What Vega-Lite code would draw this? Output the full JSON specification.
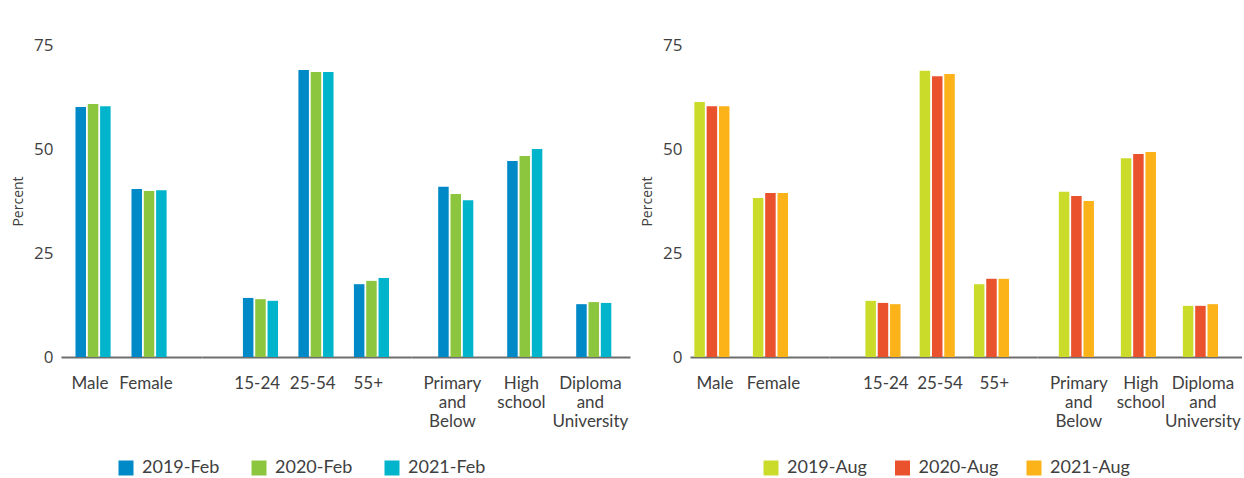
{
  "$schema": "https://vega.github.io/schema/vega-lite/v6.json",
  "padding": {"top": 36, "left": 11, "right": 0, "bottom": 0},
  "background": "white",
  "datasets": {
    "feb": [
      {"category": "Male", "group": "Gender", "period": "2019-Feb", "value": 60.1},
      {"category": "Male", "group": "Gender", "period": "2020-Feb", "value": 60.8},
      {"category": "Male", "group": "Gender", "period": "2021-Feb", "value": 60.3},
      {"category": "Female", "group": "Gender", "period": "2019-Feb", "value": 40.4},
      {"category": "Female", "group": "Gender", "period": "2020-Feb", "value": 39.9},
      {"category": "Female", "group": "Gender", "period": "2021-Feb", "value": 40.1},
      {"category": "15-24", "group": "Age", "period": "2019-Feb", "value": 14.2},
      {"category": "15-24", "group": "Age", "period": "2020-Feb", "value": 13.9},
      {"category": "15-24", "group": "Age", "period": "2021-Feb", "value": 13.5},
      {"category": "25-54", "group": "Age", "period": "2019-Feb", "value": 69.0},
      {"category": "25-54", "group": "Age", "period": "2020-Feb", "value": 68.5},
      {"category": "25-54", "group": "Age", "period": "2021-Feb", "value": 68.5},
      {"category": "55+", "group": "Age", "period": "2019-Feb", "value": 17.5},
      {"category": "55+", "group": "Age", "period": "2020-Feb", "value": 18.3},
      {"category": "55+", "group": "Age", "period": "2021-Feb", "value": 19.0},
      {"category": "Primary and Below", "group": "Education", "period": "2019-Feb", "value": 40.9},
      {"category": "Primary and Below", "group": "Education", "period": "2020-Feb", "value": 39.2},
      {"category": "Primary and Below", "group": "Education", "period": "2021-Feb", "value": 37.7},
      {"category": "High school", "group": "Education", "period": "2019-Feb", "value": 47.1},
      {"category": "High school", "group": "Education", "period": "2020-Feb", "value": 48.3},
      {"category": "High school", "group": "Education", "period": "2021-Feb", "value": 50.0},
      {"category": "Diploma and University", "group": "Education", "period": "2019-Feb", "value": 12.7},
      {"category": "Diploma and University", "group": "Education", "period": "2020-Feb", "value": 13.2},
      {"category": "Diploma and University", "group": "Education", "period": "2021-Feb", "value": 13.0}
    ],
    "aug": [
      {"category": "Male", "group": "Gender", "period": "2019-Aug", "value": 61.3},
      {"category": "Male", "group": "Gender", "period": "2020-Aug", "value": 60.3},
      {"category": "Male", "group": "Gender", "period": "2021-Aug", "value": 60.3},
      {"category": "Female", "group": "Gender", "period": "2019-Aug", "value": 38.2},
      {"category": "Female", "group": "Gender", "period": "2020-Aug", "value": 39.4},
      {"category": "Female", "group": "Gender", "period": "2021-Aug", "value": 39.4},
      {"category": "15-24", "group": "Age", "period": "2019-Aug", "value": 13.5},
      {"category": "15-24", "group": "Age", "period": "2020-Aug", "value": 13.0},
      {"category": "15-24", "group": "Age", "period": "2021-Aug", "value": 12.7},
      {"category": "25-54", "group": "Age", "period": "2019-Aug", "value": 68.8},
      {"category": "25-54", "group": "Age", "period": "2020-Aug", "value": 67.5},
      {"category": "25-54", "group": "Age", "period": "2021-Aug", "value": 68.0},
      {"category": "55+", "group": "Age", "period": "2019-Aug", "value": 17.5},
      {"category": "55+", "group": "Age", "period": "2020-Aug", "value": 18.8},
      {"category": "55+", "group": "Age", "period": "2021-Aug", "value": 18.8},
      {"category": "Primary and Below", "group": "Education", "period": "2019-Aug", "value": 39.7},
      {"category": "Primary and Below", "group": "Education", "period": "2020-Aug", "value": 38.7},
      {"category": "Primary and Below", "group": "Education", "period": "2021-Aug", "value": 37.5},
      {"category": "High school", "group": "Education", "period": "2019-Aug", "value": 47.8},
      {"category": "High school", "group": "Education", "period": "2020-Aug", "value": 48.8},
      {"category": "High school", "group": "Education", "period": "2021-Aug", "value": 49.3},
      {"category": "Diploma and University", "group": "Education", "period": "2019-Aug", "value": 12.3},
      {"category": "Diploma and University", "group": "Education", "period": "2020-Aug", "value": 12.3},
      {"category": "Diploma and University", "group": "Education", "period": "2021-Aug", "value": 12.7}
    ]
  },
  "config": {
    "view": {"stroke": null},
    "axisX": {
      "domainColor": "#6e6e6e", "domainWidth": 2, "ticks": false, "tickSize": 0, "grid": false,
      "labelAngle": 0, "labelFont": "Lato", "labelFontSize": 17, "labelColor": "#404040",
      "labelPadding": 18, "labelLineHeight": 19, "labelExpr": "split(datum.label, ' ')", "title": null
    },
    "axisY": {
      "domain": false, "ticks": false, "tickSize": 0, "grid": false,
      "labelFont": "Open Sans", "labelFontSize": 17, "labelColor": "#404040", "labelPadding": 8,
      "titleFont": "Open Sans", "titleFontSize": 14, "titleFontWeight": "normal", "titleColor": "#404040", "titlePadding": 8
    },
    "legend": {
      "orient": "none", "direction": "horizontal", "title": null, "symbolType": "square", "symbolSize": 225,
      "symbolStrokeWidth": 0, "labelFont": "Lato", "labelFontSize": 18, "labelColor": "#404040",
      "labelOffset": 7, "columnPadding": 30
    }
  },
  "spacing": 0,
  "bounds": "flush",
  "resolve": {"scale": {"color": "independent", "x": "independent", "y": "independent"}, "legend": {"color": "independent"}},
  "hconcat": [
    {
      "data": {"name": "feb"},
      "width": 141, "height": 312,
      "transform": [{"filter": "datum.group === 'Gender'"}],
      "mark": {"type": "bar", "width": 10.5},
      "encoding": {
        "x": {"field": "category", "type": "nominal", "sort": ["Male", "Female"], "scale": {"paddingInner": 0.357, "paddingOuter": 0.4375, "align": 0.224}},
        "xOffset": {"field": "period", "type": "nominal", "scale": {"paddingInner": 0.15, "paddingOuter": 0}},
        "y": {"field": "value", "type": "quantitative", "scale": {"domain": [0, 75], "nice": false}, "axis": {"values": [0, 25, 50, 75], "title": "Percent"}},
        "color": {"field": "period", "type": "nominal", "scale": {"domain": ["2019-Feb", "2020-Feb", "2021-Feb"], "range": ["#0089c7", "#8cc63f", "#00b5cb"]}, "legend": null}
      }
    },
    {
      "data": {"name": "feb"},
      "width": 209, "height": 312,
      "transform": [{"filter": "datum.group === 'Age'"}],
      "mark": {"type": "bar", "width": 10.5},
      "encoding": {
        "x": {"field": "category", "type": "nominal", "sort": ["15-24", "25-54", "55+"], "scale": {"paddingInner": 0.357, "paddingOuter": 0.5615, "align": 0.6}},
        "xOffset": {"field": "period", "type": "nominal", "scale": {"paddingInner": 0.15, "paddingOuter": 0}},
        "y": {"field": "value", "type": "quantitative", "scale": {"domain": [0, 75], "nice": false}, "axis": null},
        "color": {"field": "period", "type": "nominal", "scale": {"domain": ["2019-Feb", "2020-Feb", "2021-Feb"], "range": ["#0089c7", "#8cc63f", "#00b5cb"]}, "legend": {"legendX": -85, "legendY": 414}}
      }
    },
    {
      "data": {"name": "feb"},
      "width": 219, "height": 312,
      "transform": [{"filter": "datum.group === 'Education'"}],
      "mark": {"type": "bar", "width": 10.5},
      "encoding": {
        "x": {"field": "category", "type": "nominal", "sort": ["Primary and Below", "High school", "Diploma and University"], "scale": {"paddingInner": 0.486, "paddingOuter": 0.33, "align": 0.52}},
        "xOffset": {"field": "period", "type": "nominal", "scale": {"paddingInner": 0.15, "paddingOuter": 0}},
        "y": {"field": "value", "type": "quantitative", "scale": {"domain": [0, 75], "nice": false}, "axis": null},
        "color": {"field": "period", "type": "nominal", "scale": {"domain": ["2019-Feb", "2020-Feb", "2021-Feb"], "range": ["#0089c7", "#8cc63f", "#00b5cb"]}, "legend": null}
      }
    },
    {
      "data": {"values": []},
      "width": 60, "height": 312,
      "mark": {"type": "point"},
      "encoding": {}
    },
    {
      "data": {"name": "aug"},
      "width": 139, "height": 312,
      "transform": [{"filter": "datum.group === 'Gender'"}],
      "mark": {"type": "bar", "width": 10.5},
      "encoding": {
        "x": {"field": "category", "type": "nominal", "sort": ["Male", "Female"], "scale": {"paddingInner": 0.385, "paddingOuter": 0.38, "align": 0.157}},
        "xOffset": {"field": "period", "type": "nominal", "scale": {"paddingInner": 0.15, "paddingOuter": 0}},
        "y": {"field": "value", "type": "quantitative", "scale": {"domain": [0, 75], "nice": false}, "axis": {"values": [0, 25, 50, 75], "title": "Percent"}},
        "color": {"field": "period", "type": "nominal", "scale": {"domain": ["2019-Aug", "2020-Aug", "2021-Aug"], "range": ["#cadb2a", "#e9522c", "#fbb319"]}, "legend": null}
      }
    },
    {
      "data": {"name": "aug"},
      "width": 208, "height": 312,
      "transform": [{"filter": "datum.group === 'Age'"}],
      "mark": {"type": "bar", "width": 10.5},
      "encoding": {
        "x": {"field": "category", "type": "nominal", "sort": ["15-24", "25-54", "55+"], "scale": {"paddingInner": 0.346, "paddingOuter": 0.59, "align": 0.61}},
        "xOffset": {"field": "period", "type": "nominal", "scale": {"paddingInner": 0.15, "paddingOuter": 0}},
        "y": {"field": "value", "type": "quantitative", "scale": {"domain": [0, 75], "nice": false}, "axis": null},
        "color": {"field": "period", "type": "nominal", "scale": {"domain": ["2019-Aug", "2020-Aug", "2021-Aug"], "range": ["#cadb2a", "#e9522c", "#fbb319"]}, "legend": {"legendX": -67, "legendY": 414, "columnPadding": 26.5}}
      }
    },
    {
      "data": {"name": "aug"},
      "width": 205, "height": 312,
      "transform": [{"filter": "datum.group === 'Education'"}],
      "mark": {"type": "bar", "width": 10.5},
      "encoding": {
        "x": {"field": "category", "type": "nominal", "sort": ["Primary and Below", "High school", "Diploma and University"], "scale": {"paddingInner": 0.439, "paddingOuter": 0.372, "align": 0.53}},
        "xOffset": {"field": "period", "type": "nominal", "scale": {"paddingInner": 0.15, "paddingOuter": 0}},
        "y": {"field": "value", "type": "quantitative", "scale": {"domain": [0, 75], "nice": false}, "axis": null},
        "color": {"field": "period", "type": "nominal", "scale": {"domain": ["2019-Aug", "2020-Aug", "2021-Aug"], "range": ["#cadb2a", "#e9522c", "#fbb319"]}, "legend": null}
      }
    }
  ]
}
